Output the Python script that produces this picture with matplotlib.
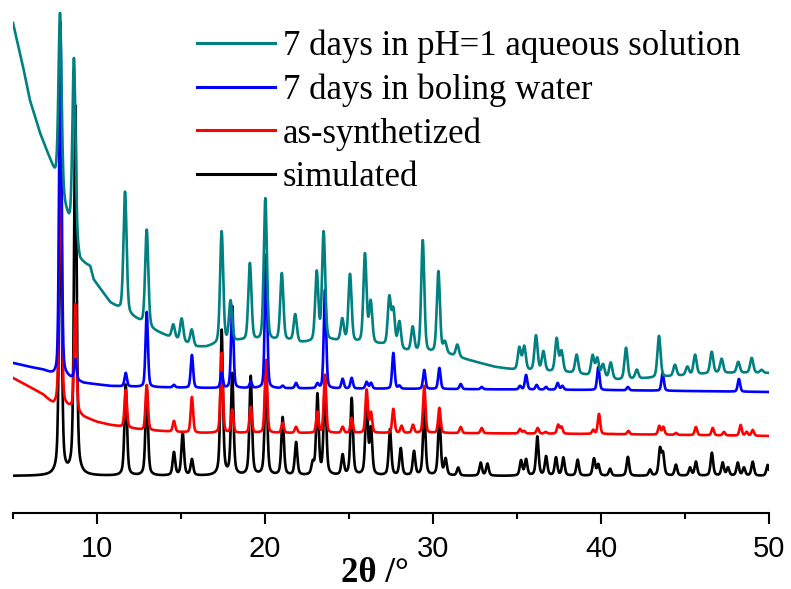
import numpy as np
import matplotlib
matplotlib.use('Agg')
from matplotlib import pyplot as plt
from matplotlib.ticker import MultipleLocator

# 2θ 网格
two_theta = np.arange(5, 50.001, 0.01)

# ---- simulated (black) ----
sim_base_x = [5, 50]
sim_base_y = [37, 37]
sim_pos = [7.82, 8.71, 11.71, 12.96, 14.58, 15.10, 15.65, 17.42, 18.05, 19.15,
           20.06, 21.05, 21.85, 22.84, 23.12, 23.57, 24.62, 25.16, 26.05, 26.31,
           27.44, 28.08, 28.87, 29.48, 30.38, 30.75, 31.50, 32.84, 33.24, 35.24,
           35.54, 36.21, 36.73, 37.32, 37.76, 38.61, 39.58, 39.84, 40.54, 41.60,
           42.92, 43.51, 43.69, 44.46, 45.30, 45.65, 46.60, 47.24, 47.56, 48.14,
           48.51, 49.03, 49.92]
sim_top = [350, 406, 128, 123, 60, 80, 53, 182, 138, 136,
           143, 95, 70, 48, 117, 133, 57, 114, 113, 82,
           83, 64, 61, 103, 98, 53, 45, 50, 49, 52,
           53, 76, 56, 55, 55, 53, 54, 48, 44, 56,
           43, 63, 58, 48, 45, 51, 60, 50, 45, 50,
           45, 51, 48]

# ---- as-synthetized (red) ----
syn_base_x = [5.0, 6.0, 6.8, 7.4, 8.4, 9.2, 10.0, 10.8, 12.7, 14.8, 16.1, 30, 40, 50]
syn_base_y = [135, 126, 118, 108, 105, 96, 91, 88, 83, 81, 80, 80, 79, 77]
syn_pos = [7.82, 8.71, 11.71, 12.96, 14.58, 15.65, 17.42, 18.05, 19.15, 20.06,
           21.05, 21.85, 23.12, 23.57, 24.62, 25.16, 26.05, 26.31, 27.64, 28.13,
           28.81, 29.48, 30.38, 31.65, 32.90, 35.18, 35.42, 36.23, 36.70, 37.45,
           37.65, 38.60, 39.54, 39.88, 40.70, 41.63, 43.47, 43.71, 44.46, 45.65,
           46.65, 47.32, 48.31, 48.67, 49.03]
syn_top = [403, 208, 123, 128, 92, 116, 160, 103, 106, 153,
           90, 86, 101, 138, 86, 95, 123, 100, 104, 87,
           88, 127, 105, 86, 85, 84, 82, 85, 81, 88,
           86, 79, 83, 99, 79, 82, 87, 86, 80, 86,
           85, 81, 88, 81, 83]

# ---- 7 days in boiling water (blue) ----
bw_base_x = [5.0, 6.0, 6.8, 7.4, 8.2, 9.2, 10.8, 12.7, 16.1, 30, 40, 50]
bw_base_y = [150, 146, 143, 138, 136, 130, 127, 126, 125, 124, 123, 121]
bw_pos = [7.82, 8.71, 11.71, 12.96, 14.58, 15.65, 17.42, 18.05, 19.15, 20.06,
          21.05, 21.85, 23.12, 23.57, 24.62, 25.16, 26.05, 26.31, 27.64, 28.00,
          29.48, 30.38, 31.65, 32.90, 35.18, 35.54, 36.17, 36.73, 37.42, 37.70,
          39.84, 41.60, 43.67, 48.21]
bw_top = [491, 153, 140, 201, 128, 158, 140, 207, 131, 258,
          127, 130, 129, 223, 134, 135, 131, 130, 160, 127,
          143, 145, 129, 126, 127, 138, 128, 126, 130, 127,
          146, 126, 140, 134]

# ---- 7 days in pH=1 aqueous solution (teal) ----
acid_base_x = [5.0, 5.6, 6.0, 6.6, 7.2, 7.6, 8.2, 9.0, 9.6, 9.8, 10.8, 11.4, 12.4,
               13.3, 14.3, 15.9, 16.5, 17.0, 18.5, 21.5, 22.1, 24.0, 27.0, 28.0,
               29.0, 30.6, 32.1, 33.7, 34.9, 38.3, 41.0, 43.0, 46.9, 50.0]
acid_base_y = [490, 446, 413, 380, 353, 333, 298, 251, 246, 233, 210, 203, 193,
               183, 176, 166, 166, 168, 172, 172, 170, 172, 168, 163,
               160, 160, 153, 146, 143, 140, 133, 135, 140, 140]
acid_pos = [7.80, 8.63, 11.67, 12.96, 14.54, 15.04, 15.64, 17.42, 17.95, 19.10,
            20.02, 21.00, 21.80, 23.08, 23.49, 24.60, 25.06, 25.95, 26.29, 27.40,
            27.64, 28.00, 28.79, 29.39, 30.32, 30.71, 31.45, 35.14, 35.43, 36.13,
            36.57, 37.36, 37.65, 38.55, 39.50, 39.78, 40.12, 40.58, 41.49, 42.13,
            43.45, 44.40, 45.14, 45.60, 46.59, 47.18, 48.17, 48.97, 49.56]
acid_top = [499, 454, 321, 283, 188, 194, 183, 281, 211, 249,
            314, 239, 198, 240, 280, 193, 238, 258, 210, 214,
            201, 190, 185, 272, 241, 170, 168, 165, 166, 177,
            161, 174, 161, 158, 157, 154, 148, 150, 165, 143,
            177, 148, 146, 158, 161, 154, 151, 155, 143]

labels = ['7 days in pH=1 aqueous solution', '7 days in boling water',
          'as-synthetized', 'simulated']
colors = ['#008080', '#0000ff', '#ff0000', '#000000']


def pattern(pos, top, base_x, base_y, fwhm, eta):
    base = np.interp(two_theta, base_x, base_y)
    y = base.copy()
    for p, t in zip(pos, top):
        h = t - np.interp(p, base_x, base_y)
        d = (two_theta - p) / fwhm
        y += h * (eta / (1 + 4 * d ** 2) + (1 - eta) * np.exp(-4 * np.log(2) * d ** 2))
    return y


curves = [
    pattern(acid_pos, acid_top, acid_base_x, acid_base_y, 0.22, 0.3),
    pattern(bw_pos, bw_top, bw_base_x, bw_base_y, 0.17, 0.3),
    pattern(syn_pos, syn_top, syn_base_x, syn_base_y, 0.17, 0.3),
    pattern(sim_pos, sim_top, sim_base_x, sim_base_y, 0.18, 0.5),
]

fig = plt.figure(figsize=(7.91, 5.89), dpi=100)
ax = fig.add_axes([13 / 791, 1 - 513 / 589, 756 / 791, 513 / 589])

# 画线 (黑色在最下面)
lines = []
for i in range(3, -1, -1):
    ln, = ax.plot(two_theta, curves[i], color=colors[i], lw=1.9, label=labels[i])
    lines.append(ln)
lines = lines[::-1]

ax.set_xlim(5, 50)
ax.set_ylim(0, 513)
for s in ['left', 'right', 'top']:
    ax.spines[s].set_visible(False)
ax.spines['bottom'].set_linewidth(1.5)
ax.set_yticks([])
ax.xaxis.set_major_locator(MultipleLocator(10))
ax.xaxis.set_minor_locator(MultipleLocator(5))
ax.tick_params(axis='x', which='major', direction='out', length=8, width=1.5,
               labelsize=21, pad=8)
ax.tick_params(axis='x', which='minor', direction='out', length=4, width=1.5)
for lab in ax.get_xticklabels():
    lab.set_fontfamily('Liberation Sans')

# x 轴标题
fig.text(375 / 791, 1 - 574 / 589, '2θ /°', ha='center', va='center', fontsize=25,
         fontweight='bold', fontfamily='Liberation Serif')

leg = ax.legend(lines, labels, loc='upper left', bbox_to_anchor=(0.211, 0.989),
                frameon=False, prop={'family': 'Liberation Serif', 'size': 25},
                handlelength=2.25, handletextpad=0.23, labelspacing=0.29,
                borderaxespad=0.3)
for l in leg.get_lines():
    l.set_linewidth(2.2)

plt.savefig('out.png', dpi=100)
